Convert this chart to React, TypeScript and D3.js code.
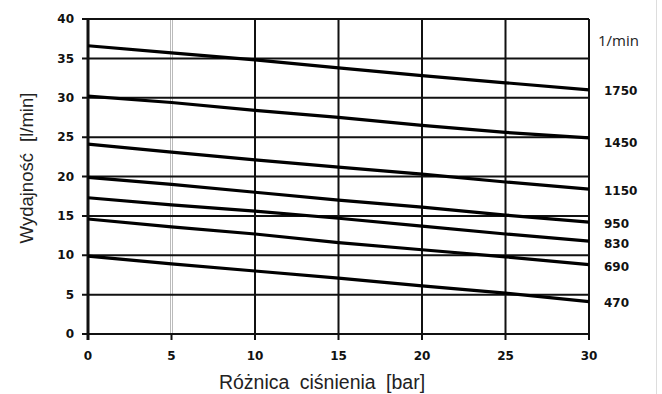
import { useEffect, useRef } from 'react';
import * as d3 from 'd3';

const pressure = [0, 5, 10, 15, 20, 25, 30];
const speeds = ['1750', '1450', '1150', '950', '830', '690', '470'];
const flow1750 = [36.6, 35.7, 34.8, 33.8, 32.8, 31.9, 31.0];
const flow1450 = [30.2, 29.4, 28.4, 27.5, 26.5, 25.6, 24.9];
const flow1150 = [24.1, 23.1, 22.1, 21.2, 20.3, 19.3, 18.4];
const flow950 = [19.9, 19.0, 18.0, 17.0, 16.1, 15.1, 14.2];
const flow830 = [17.3, 16.4, 15.6, 14.7, 13.7, 12.7, 11.8];
const flow690 = [14.6, 13.6, 12.7, 11.6, 10.7, 9.8, 8.8];
const flow470 = [9.9, 8.9, 8.0, 7.1, 6.1, 5.2, 4.1];
const xTicks = [0, 5, 10, 15, 20, 25, 30];
const yTicks = [0, 5, 10, 15, 20, 25, 30, 35, 40];

const series = [flow1750, flow1450, flow1150, flow950, flow830, flow690, flow470];
// label vertical positions (in data units) at the right edge
const labelY = [30.9, 24.3, 18.2, 14.0, 11.5, 8.5, 4.0];

export default function App() {
  const ref = useRef<SVGSVGElement | null>(null);

  useEffect(() => {
    if (!ref.current) return;
    const svg = d3.select(ref.current);
    svg.selectAll('*').remove();

    const x = d3.scaleLinear().domain([0, 30]).range([88, 589]);
    const y = d3.scaleLinear().domain([0, 40]).range([334, 19]);
    const tickFont = '"DejaVu Sans", Verdana, sans-serif';

    svg.append('rect').attr('width', 662).attr('height', 394).attr('fill', 'white');
    svg.append('line')
      .attr('x1', 656.5).attr('x2', 656.5).attr('y1', 0).attr('y2', 394)
      .attr('stroke', '#ddd').attr('stroke-width', 1);

    const g = svg.append('g');

    // faint grid at 5 bar
    g.append('line')
      .attr('x1', x(5) - 1).attr('x2', x(5) - 1).attr('y1', y(40)).attr('y2', y(0))
      .attr('stroke', '#bbb').attr('stroke-width', 1);
    g.append('line')
      .attr('x1', x(5) + 1).attr('x2', x(5) + 1).attr('y1', y(40)).attr('y2', y(0))
      .attr('stroke', '#bbb').attr('stroke-width', 1);

    // horizontal grid
    g.selectAll('.hgrid')
      .data(yTicks)
      .enter().append('line')
      .attr('x1', x(0) - 6).attr('x2', x(30))
      .attr('y1', d => y(d)).attr('y2', d => y(d))
      .attr('stroke', '#111').attr('stroke-width', 2);

    // vertical grid
    g.selectAll('.vgrid')
      .data(xTicks.filter(d => d !== 5))
      .enter().append('line')
      .attr('x1', d => x(d)).attr('x2', d => x(d))
      .attr('y1', y(40)).attr('y2', y(0) + 6)
      .attr('stroke', '#111').attr('stroke-width', d => (d === 0 ? 3 : 2));
    g.append('line')
      .attr('x1', x(5)).attr('x2', x(5)).attr('y1', y(0)).attr('y2', y(0) + 6)
      .attr('stroke', '#111').attr('stroke-width', 2);

    // tick labels
    g.selectAll('.ylab')
      .data(yTicks)
      .enter().append('text')
      .attr('x', x(0) - 14).attr('y', d => y(d)).attr('dy', '0.35em')
      .attr('text-anchor', 'end')
      .attr('font-family', tickFont).attr('font-weight', 'bold').attr('font-size', 12)
      .attr('fill', '#111')
      .text(d => d);

    g.selectAll('.xlab')
      .data(xTicks)
      .enter().append('text')
      .attr('x', d => x(d)).attr('y', y(0) + 26)
      .attr('text-anchor', 'middle')
      .attr('font-family', tickFont).attr('font-weight', 'bold').attr('font-size', 12)
      .attr('fill', '#111')
      .text(d => d);

    // curves
    const line = d3.line<number>()
      .x((_, i) => x(pressure[i]))
      .y(d => y(d));

    g.selectAll('.curve')
      .data(series)
      .enter().append('path')
      .attr('d', d => line(d))
      .attr('fill', 'none')
      .attr('stroke', '#000')
      .attr('stroke-width', 3.2);

    // right labels
    g.append('text')
      .attr('x', 598).attr('y', y(37.2)).attr('dy', '0.35em')
      .attr('font-family', '"Open Sans", "Noto Sans", sans-serif')
      .attr('font-size', 15).attr('fill', '#222')
      .text('1/min');

    g.selectAll('.slab')
      .data(speeds)
      .enter().append('text')
      .attr('x', 604).attr('y', (_, i) => y(labelY[i])).attr('dy', '0.35em')
      .attr('font-family', tickFont).attr('font-weight', 'bold').attr('font-size', 12)
      .attr('fill', '#111')
      .text(d => d);

    // axis titles
    svg.append('text')
      .attr('x', 322).attr('y', 389)
      .attr('text-anchor', 'middle')
      .attr('font-family', '"Liberation Sans", Arial, sans-serif')
      .attr('font-size', 19.5).attr('fill', '#222')
      .attr('word-spacing', 5)
      .text('Różnica ciśnienia [bar]');

    svg.append('text')
      .attr('transform', `translate(33,168) rotate(-90)`)
      .attr('text-anchor', 'middle')
      .attr('font-family', '"Liberation Sans", Arial, sans-serif')
      .attr('font-size', 18.5).attr('fill', '#222')
      .attr('word-spacing', 6)
      .text('Wydajność [l/min]');
  }, []);

  return (
    <svg
      ref={ref}
      width={662}
      height={394}
      style={{ position: 'absolute', left: 0, top: 0, display: 'block' }}
    />
  );
}
